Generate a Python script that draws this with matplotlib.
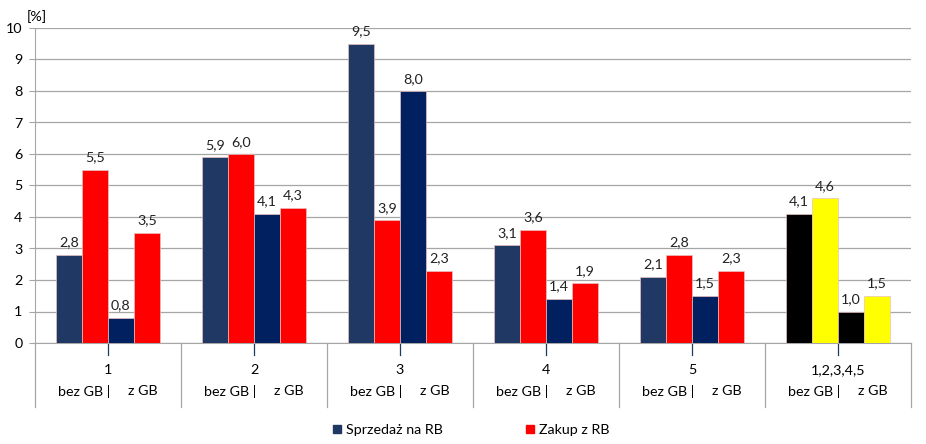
import matplotlib.pyplot as plt
import matplotlib.transforms as mtransforms
from matplotlib.lines import Line2D

plt.rcParams['font.family'] = ['Lato', 'DejaVu Sans']

groups = ["1", "2", "3", "4", "5", "1,2,3,4,5"]
sprzedaz_bez = [2.8, 5.9, 9.5, 3.1, 2.1, 4.1]
zakup_bez = [5.5, 6.0, 3.9, 3.6, 2.8, 4.6]
sprzedaz_z = [0.8, 4.1, 8.0, 1.4, 1.5, 1.0]
zakup_z = [3.5, 4.3, 2.3, 1.9, 2.3, 1.5]
yticks = list(range(0, 11))

c_sb = "#1F3864"
c_sz = "#002060"
c_red = "#FF0000"
c_blk = "#000000"
c_yel = "#FFFF00"
fs = 10.3

W, H = 926, 444
fig = plt.figure(figsize=(W / 100, H / 100), dpi=100)
ax = fig.add_axes([35 / W, 1 - 343 / H, (911 - 35) / W, (343 - 28) / H])

x = list(range(len(groups)))
bw = 0.178
series = [
    (sprzedaz_bez, [c_sb] * 5 + [c_blk], -1.5),
    (zakup_bez, [c_red] * 5 + [c_yel], -0.5),
    (sprzedaz_z, [c_sz] * 5 + [c_blk], 0.5),
    (zakup_z, [c_red] * 5 + [c_yel], 1.5),
]
for vals, cols, off in series:
    xs = [xi + off * bw for xi in x]
    ax.bar(xs, vals, width=bw, color=cols, edgecolor="#E8C0C0", linewidth=0.5, zorder=3)
    for xi, v in zip(xs, vals):
        ax.text(xi, v + 0.2, f"{v:.1f}".replace(".", ","), ha="center", va="bottom",
                fontsize=fs, color="#222222")

ax.set_xlim(-0.5, 5.5)
ax.set_ylim(0, 10)
ax.set_yticks(yticks)
ax.set_yticklabels([str(t) for t in yticks], fontsize=fs)
ax.set_xticks([])
ax.yaxis.grid(True, color="#A6A6A6", linewidth=0.9, zorder=0)
ax.set_axisbelow(True)
for s in ["top", "right"]:
    ax.spines[s].set_visible(False)
ax.spines["left"].set_color("#A6A6A6")
ax.spines["bottom"].set_color("#A6A6A6")
ax.tick_params(axis="y", length=4, color="#A6A6A6", pad=5)

trans = mtransforms.blended_transform_factory(ax.transData, ax.transAxes)
low = -(407 - 343) / 315
for b in [i - 0.5 for i in range(len(groups) + 1)]:
    ax.add_line(Line2D([b, b], [0, low], transform=trans, color="#A6A6A6",
                       linewidth=0.9, clip_on=False))
for xi, g in zip(x, groups):
    ax.add_line(Line2D([xi, xi], [0, -12 / 315], transform=trans, color="#1F3864",
                       linewidth=0.9, clip_on=False))
    ax.text(xi, -(370 - 343) / 315, g, transform=trans, ha="center", va="center", fontsize=fs)
    ax.text(xi + 0.015, -(391 - 343) / 315, "bez GB |", transform=trans, ha="right",
            va="center", fontsize=fs)
    ax.text(xi + 0.137, -(391 - 343) / 315, "z GB", transform=trans, ha="left",
            va="center", fontsize=fs)

fig.text(27 / W, 1 - 17 / H, "[%]", ha="left", va="center", fontsize=fs)

handles = [Line2D([], [], marker="s", linestyle="none", color=c_sb, markersize=6),
           Line2D([], [], marker="s", linestyle="none", color=c_red, markersize=6)]
fig.legend(handles, ["Sprzedaż na RB", "Zakup z RB"], loc="center",
           bbox_to_anchor=(471 / W, 1 - 430 / H), ncol=2, frameon=False,
           fontsize=fs, handlelength=0.6, handletextpad=0.3, columnspacing=5.8)

fig.savefig("out.png", dpi=100)
